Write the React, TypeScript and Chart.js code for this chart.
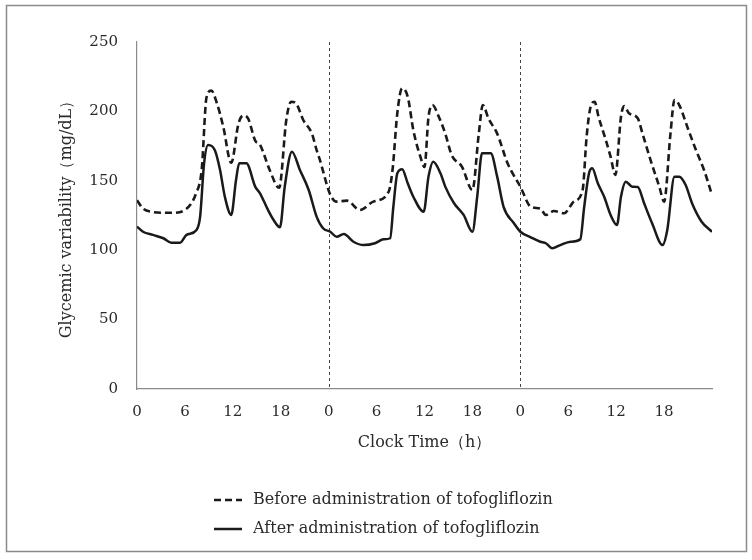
import React, { useEffect, useRef } from "react";
import { Chart, registerables } from "chart.js";

Chart.register(...registerables);

// ---- Data (hours since start of day 1, glucose mg/dL) ----
const beforeHours = [
  0, 0.75, 2, 3.3, 4.5, 6, 7.4, 8.1, 8.7, 9.3, 10.0, 10.8, 11.8, 12.7, 13.3, 13.9, 14.8, 15.4, 16.6, 17.8,
  18.7, 19.3, 20.0, 20.8, 21.9, 22.5, 22.9, 24.2, 25.0, 26.3, 27.9, 29.6, 31.5, 32.0, 32.6, 33.2, 33.9,
  34.6, 35.5, 36.0, 36.5, 37.0, 37.8, 38.6, 39.4, 40.7, 42.0, 42.8, 43.3, 44.0, 45.1, 46.4, 46.8, 48.0,
  49.3, 50.5, 51.2, 52.2, 53.5, 54.7, 55.8, 56.3, 56.8, 57.3, 57.8, 58.7, 59.3, 59.9, 60.6, 61.0, 61.6,
  62.7, 63.3, 64.3, 65.4, 66.0, 66.8, 67.3, 67.9, 68.9, 70.0, 71.0, 72.0,
];
const beforeValues = [
  136, 130, 127.5, 127, 127, 129, 141, 158, 210, 215, 206, 189, 163, 191, 197, 195, 179, 176, 158, 145,
  194, 207, 205, 194, 184, 172, 165, 140, 135, 135.7, 129, 135, 142, 158, 199, 216.6, 210.6,
  186.6, 167, 160, 196, 204.6, 196, 184, 168.6, 160, 143.4, 184, 204.6, 195, 184, 162.6, 157.8, 145.8,
  131.3, 130, 125.4, 128.2, 126.6, 135, 143.4, 181.8, 203.4, 207, 196, 179.4, 167.4, 154.2, 196, 203.9, 198.6,
  195, 184, 165, 145.8, 135, 184, 208.2, 204.6, 189, 172, 157.8, 139.8,
];
const afterHours = [
  0, 0.75, 2, 3.3, 4.3, 5.4, 6.2, 7.45, 7.9, 8.4, 8.9, 9.75, 10.4, 11.0, 11.8, 12.4, 12.8, 13.7, 14.8, 15.4,
  16.4, 17.1, 17.9, 18.5, 19.4, 20.4, 21.5, 22.5, 23.3, 24.2, 25.0, 25.9, 27.1, 28.4, 29.8, 30.9, 31.7,
  32.1, 32.6, 33.2, 33.9, 34.6, 35.9, 36.5, 37.1, 38.0, 38.6, 39.7, 40.9, 42.0, 42.6, 43.2, 44.3, 45.1,
  45.9, 47.2, 48.0, 49.3, 50.5, 51.2, 52.0, 53.0, 54.3, 55.5, 56.0, 56.6, 57.0, 57.7, 58.5, 59.3, 60.1,
  60.6, 61.2, 62.0, 62.7, 63.5, 64.5, 65.8, 66.4, 67.3, 67.9, 68.7, 69.5, 70.7, 72.0,
];
const afterValues = [
  117, 113.3, 111, 108.6, 105.4, 105.4, 111, 114.6, 124, 162.6, 175.8, 172, 157.8, 138.5, 125.4, 150.6, 162.6, 162.6, 145.8, 141,
  129, 121.8, 116.5, 145.8, 171, 157.8, 143.4, 124, 115.8, 113.3, 109.7, 111.7, 106.1, 103.7, 105, 107.8, 108.6,
  131.3, 155.4, 158.3, 148.2, 138.5, 127.7, 153, 163.8, 155.4, 145.8, 133.8, 125.4, 113.3, 138.5, 169.8, 169.8, 153,
  131.3, 119.4, 113.3, 109.3, 106.1, 105, 101.4, 103.7, 106.1, 107.8, 131.3, 155.4, 159, 148.2, 138.5, 125.4, 118.2,
  138.5, 149.4, 145.8, 145.5, 133.8, 119.4, 103.7, 114.6, 153, 153, 147, 133.8, 120.5, 113.3,
];

const seriesLabels = ["Before administration of tofogliflozin", "After administration of tofogliflozin"];
const dayBoundaries = [24, 48];
const xTickHours = [0, 6, 12, 18, 24, 30, 36, 42, 48, 54, 60, 66];
const xTickLabels = ["0", "6", "12", "18", "0", "6", "12", "18", "0", "6", "12", "18"];
const yTicksValues = [0, 50, 100, 150, 200, 250];
const xTitle = "Clock Time（h）";
const yTitle = "Glycemic variability（mg/dL）";

const FONT = "'DejaVu Serif', 'Liberation Serif', serif";
const TEXT = "#2a2a2a";
const AXIS = "#8a8a8a";

function toPoints(xs: number[], ys: number[]) {
  return xs.map((x, i) => ({ x, y: ys[i] }));
}

const decorPlugin = {
  id: "decor",
  beforeDraw(chart: any) {
    const { ctx } = chart;
    ctx.save();
    ctx.fillStyle = "#ffffff";
    ctx.fillRect(0, 0, chart.width, chart.height);
    ctx.strokeStyle = AXIS;
    ctx.lineWidth = 1.5;
    ctx.strokeRect(6.5, 5.5, 740, 546);
    ctx.restore();
  },
  beforeDatasetsDraw(chart: any) {
    const { ctx, chartArea, scales } = chart;
    ctx.save();
    ctx.strokeStyle = "#444";
    ctx.lineWidth = 1;
    ctx.setLineDash([3, 3]);
    dayBoundaries.forEach((h) => {
      const x = Math.round(scales.x.getPixelForValue(h)) + 0.5;
      ctx.beginPath();
      ctx.moveTo(x, chartArea.top);
      ctx.lineTo(x, chartArea.bottom);
      ctx.stroke();
    });
    ctx.restore();
  },
  afterDraw(chart: any) {
    const { ctx } = chart;
    const rows = [500, 529];
    ctx.save();
    chart.data.datasets.forEach((ds: any, i: number) => {
      const y = rows[i];
      ctx.strokeStyle = ds.borderColor;
      ctx.lineWidth = ds.borderWidth;
      ctx.setLineDash(ds.borderDash || []);
      ctx.beginPath();
      ctx.moveTo(214, y);
      ctx.lineTo(242, y);
      ctx.stroke();
      ctx.setLineDash([]);
      ctx.fillStyle = TEXT;
      ctx.font = `16px ${FONT}`;
      ctx.textAlign = "left";
      ctx.textBaseline = "middle";
      ctx.fillText(ds.label, 253, y);
    });
    ctx.restore();
  },
};

export default function App() {
  const ref = useRef<HTMLCanvasElement | null>(null);

  useEffect(() => {
    if (!ref.current) return;
    const chart = new Chart(ref.current, {
      type: "line",
      data: {
        datasets: [
          {
            label: seriesLabels[0],
            data: toPoints(beforeHours, beforeValues),
            borderColor: "#1a1a1a",
            borderWidth: 2.6,
            borderDash: [7, 4],
            pointRadius: 0,
            fill: false,
            cubicInterpolationMode: "monotone",
          },
          {
            label: seriesLabels[1],
            data: toPoints(afterHours, afterValues),
            borderColor: "#1a1a1a",
            borderWidth: 2.5,
            pointRadius: 0,
            fill: false,
            cubicInterpolationMode: "monotone",
          },
        ],
      },
      options: {
        responsive: false,
        animation: false,
        events: [],
        layout: { padding: { left: 0, right: 40, top: 42, bottom: 108 } },
        plugins: { legend: { display: false }, tooltip: { enabled: false } },
        scales: {
          x: {
            type: "linear",
            min: 0,
            max: 72,
            grid: { display: false, drawTicks: false },
            border: { display: true, color: AXIS, width: 1.2 },
            afterBuildTicks: (scale: any) => {
              scale.ticks = xTickHours.map((v) => ({ value: v }));
            },
            ticks: {
              padding: 14,
              color: TEXT,
              font: { family: FONT, size: 15 },
              maxRotation: 0,
              autoSkip: false,
              callback: (v: any) => {
                const i = xTickHours.indexOf(Number(v));
                return i >= 0 ? xTickLabels[i] : "";
              },
            },
            title: {
              display: true,
              text: xTitle,
              color: TEXT,
              font: { family: FONT, size: 16 },
              padding: { top: 0, bottom: 0 },
            },
            afterFit: (scale: any) => {
              scale.height = 63;
            },
          },
          y: {
            min: 0,
            max: 250,
            grid: { display: false, drawTicks: false },
            border: { display: true, color: AXIS, width: 1.2 },
            afterBuildTicks: (scale: any) => {
              scale.ticks = yTicksValues.map((v) => ({ value: v }));
            },
            ticks: {
              padding: 19,
              color: TEXT,
              font: { family: FONT, size: 15 },
            },
            title: {
              display: true,
              text: yTitle,
              color: TEXT,
              font: { family: FONT, size: 16 },
              padding: { top: 57, bottom: 0 },
            },
            afterFit: (scale: any) => {
              scale.width = 137;
            },
          },
        },
      },
      plugins: [decorPlugin],
    } as any);
    return () => chart.destroy();
  }, []);

  return (
    <div style={{ position: "absolute", left: 0, top: 0, width: 752, height: 560, background: "#fff" }}>
      <canvas ref={ref} width={752} height={560} style={{ display: "block", width: 752, height: 560 }} />
    </div>
  );
}
